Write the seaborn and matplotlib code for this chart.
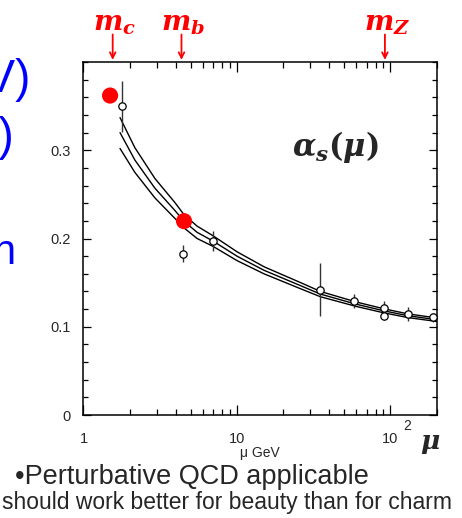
import numpy as np
import pandas as pd
import seaborn as sns
import matplotlib.pyplot as plt
from matplotlib.ticker import MultipleLocator, NullFormatter

# running coupling band
mu_curve = [1.73, 2.16, 2.92, 3.93, 4.52, 5.5, 7.0, 10, 15, 25.6, 35, 60, 91, 130, 200]
alpha_top = [0.337, 0.303, 0.268, 0.241, 0.227, 0.214, 0.203, 0.185, 0.168, 0.1505, 0.140, 0.128, 0.1203, 0.1146, 0.1100]
alpha_mid = [0.320, 0.289, 0.257, 0.232, 0.2195, 0.207, 0.197, 0.180, 0.164, 0.147, 0.137, 0.1255, 0.118, 0.1125, 0.1080]
alpha_bot = [0.302, 0.275, 0.246, 0.223, 0.212, 0.200, 0.191, 0.175, 0.160, 0.1435, 0.134, 0.123, 0.1157, 0.1104, 0.1060]

# measurements
mu_data = [1.79, 4.42, 7.0, 35, 57.6, 91.2, 91.2, 130, 189]
alpha_data = [0.350, 0.183, 0.197, 0.142, 0.129, 0.1215, 0.112, 0.114, 0.1106]
alpha_err = [0.029, 0.010, 0.011, 0.030, 0.008, 0.008, 0.004, 0.008, 0.005]

# heavy quark points
mu_quark = [1.49, 4.52]
alpha_quark = [0.362, 0.2197]

# mass markers on top
mark_mu = [1.55, 4.35, 92]
mark_labels = [r'$m_c$', r'$m_b$', r'$m_Z$']

sns.set_style('ticks')
plt.rcParams['font.family'] = ['Liberation Sans', 'DejaVu Sans']
plt.rcParams['mathtext.fontset'] = 'custom'
plt.rcParams['mathtext.it'] = 'DejaVu Serif:italic:bold'
plt.rcParams['mathtext.rm'] = 'DejaVu Serif:bold'
plt.rcParams['mathtext.bf'] = 'DejaVu Serif:italic:bold'

fig = plt.figure(figsize=(4.62, 5.18), dpi=100)
ax = fig.add_axes([0.1807, 0.1988, 0.7645, 0.6815])

curves = pd.DataFrame({'mu': mu_curve * 3,
                       'alpha': alpha_top + alpha_mid + alpha_bot,
                       'band': ['top'] * len(mu_curve) + ['mid'] * len(mu_curve) + ['bot'] * len(mu_curve)})
sns.lineplot(data=curves, x='mu', y='alpha', units='band', estimator=None,
             color='black', lw=1.0, ax=ax, sort=False)

ax.errorbar(mu_data, alpha_data, yerr=alpha_err, fmt='none', ecolor='#333333',
            elinewidth=1.0, capsize=0, zorder=3)
sns.scatterplot(x=mu_data, y=alpha_data, s=28, facecolor='white', edgecolor='black',
                linewidth=0.9, ax=ax, zorder=4)
sns.scatterplot(x=mu_quark, y=alpha_quark, s=135, color='#ff0000', edgecolor='none',
                ax=ax, zorder=5)

ax.set_xscale('log')
ax.set_xlim(1, 200)
ax.set_ylim(0, 0.4)
ax.set_xticks([1, 10, 100])
ax.set_xticklabels(['1', '10', '10'])
ax.xaxis.set_minor_formatter(NullFormatter())
ax.set_yticks([0, 0.1, 0.2, 0.3])
ax.set_yticklabels(['0', '0.1', '0.2', '0.3'])
ax.yaxis.set_minor_locator(MultipleLocator(0.02))
ax.tick_params(which='both', direction='in', top=True, right=True, width=0.9, color='black')
ax.tick_params(axis='x', which='major', length=7, labelsize=10.5, pad=12)
ax.tick_params(axis='x', which='minor', length=4)
ax.tick_params(axis='y', which='major', length=6, labelsize=10.5, pad=9)
ax.tick_params(axis='y', which='minor', length=3.5)
for s in ax.spines.values():
    s.set_linewidth(1.1)
    s.set_color('black')

ax.set_xlabel('\u03bc GeV', fontsize=10, labelpad=0)
ax.set_ylabel('')

# superscript of 10^2
ax.text(121, -0.012, '2', fontsize=10, ha='left', va='center', clip_on=False)

ax.text(0.714, 0.759, r'$\alpha_s(\mu)$', transform=ax.transAxes,
        fontsize=22, ha='center', va='center')

for m, lab in zip(mark_mu, mark_labels):
    ax.annotate('', xy=(m, 1.006), xytext=(m, 1.078),
                xycoords=('data', 'axes fraction'), textcoords=('data', 'axes fraction'),
                arrowprops=dict(arrowstyle='->', color='#ff0000', lw=1.3,
                                shrinkA=0, shrinkB=0))
    ax.text(m * 1.03, 1.09, lab, transform=ax.get_xaxis_transform(), color='#ff0000',
            fontsize=20, ha='center', va='baseline')

# big mu next to the axis
fig.text(0.931, 1 - 441 / 518, '\u03bc', fontsize=19, family='DejaVu Serif',
         style='italic', weight='bold', ha='center', va='center')

# slide text around the plot
fig.text(30 / 462, 1 - 80 / 518, 'eV)', fontsize=33, color='#0000ff', ha='right', va='center')
fig.text(15 / 462, 1 - 138 / 518, 'S)', fontsize=33, color='#0000ff', ha='right', va='center')
fig.text(15 / 462, 1 - 253 / 518, 'n', fontsize=30, color='#0000ff', ha='right', va='center')
fig.text(15 / 462, 1 - 477 / 518, '\u2022Perturbative QCD applicable', fontsize=19.5,
         ha='left', va='center')
fig.text(2 / 462, 1 - 503 / 518, 'should work better for beauty than for charm', fontsize=16.5,
         ha='left', va='center')

fig.savefig('out.png', dpi=100)
